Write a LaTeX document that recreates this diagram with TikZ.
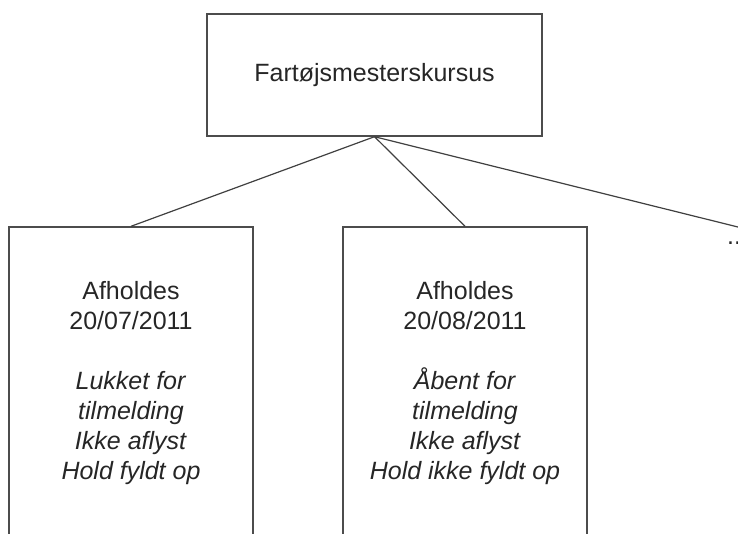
\documentclass[tikz,border=0pt]{standalone}
\usepackage{fontspec}
\setmainfont{Liberation Sans}
\begin{document}
\begin{tikzpicture}[x=1pt,y=-1pt,
    box/.style={draw=black!70,line width=1.4pt,align=center,inner sep=0pt,
        font=\fontsize{25}{30}\selectfont,text=black!85},
    link/.style={draw=black!75,line width=1.2pt}]
    \useasboundingbox (0,0) rectangle (738,533);
    \clip (0,0) rectangle (738,533);
    \node[box,minimum width=335pt,minimum height=122pt] (kursus) at (374.5,75)
        {Fartøjsmesterskursus};
    \node[box,minimum width=244pt,minimum height=312pt] (hold1) at (131,383)
        {Afholdes\\20/07/2011\\[30pt]\textit{Lukket for}\\\textit{tilmelding}\\
         \textit{Ikke aflyst}\\\textit{Hold fyldt op}};
    \node[box,minimum width=244pt,minimum height=312pt] (hold2) at (465,383)
        {Afholdes\\20/08/2011\\[30pt]\textit{Åbent for}\\\textit{tilmelding}\\
         \textit{Ikke aflyst}\\\textit{Hold ikke fyldt op}};
    \node[anchor=base west,inner sep=0pt,text=black!85,
        font=\fontsize{25}{30}\selectfont] (hold3) at (727,244) {...};
    \coordinate (naeste) at (742,228);
    \draw[link] (kursus.south) -- (hold1.north);
    \draw[link] (kursus.south) -- (hold2.north);
    \draw[link] (kursus.south) -- (naeste);
\end{tikzpicture}
\end{document}
